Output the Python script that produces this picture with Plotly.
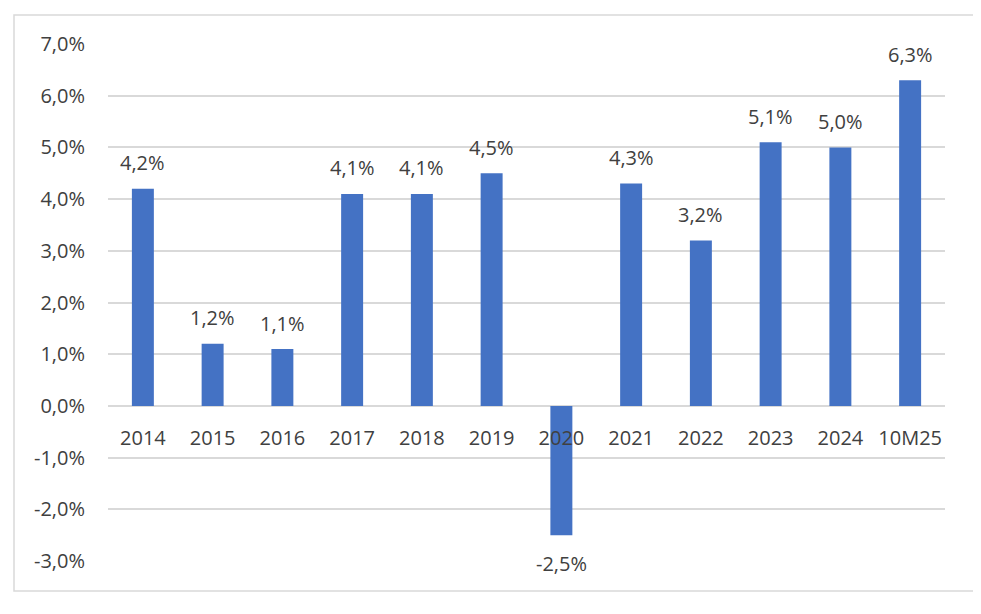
import plotly.graph_objects as go

categories = ["2014", "2015", "2016", "2017", "2018", "2019", "2020", "2021", "2022", "2023", "2024", "10M25"]
values = [4.2, 1.2, 1.1, 4.1, 4.1, 4.5, -2.5, 4.3, 3.2, 5.1, 5.0, 6.3]
y_ticks = [-3, -2, -1, 0, 1, 2, 3, 4, 5, 6, 7]

FONT = "Open Sans"
TXT = "#404040"
GRID = "#d9d9d9"
BAR = "#4472C4"

fig = go.Figure()
fig.add_trace(go.Bar(x=categories, y=values, marker_color=BAR, marker_line_width=0,
                     hoverinfo="skip"))

for i, v in enumerate(values):
    fig.add_annotation(x=i, y=v, xref="x", yref="y",
                       text=f"{v:.1f}".replace(".", ",") + "%",
                       showarrow=False, yanchor="middle",
                       yshift=26 if v >= 0 else -28,
                       font=dict(family=FONT, size=20, color=TXT))

ymin, ymax = -3, 7
W, H = 973, 606
L, R, T, B = 100, 36, 36, 53
PW, PH = W - L - R, H - T - B
fig.update_layout(
    width=W, height=H,
    margin=dict(l=L, r=R, t=T, b=B),
    paper_bgcolor="white", plot_bgcolor="white",
    showlegend=False, bargap=0.685,
    font=dict(family=FONT, size=20, color=TXT),
    xaxis=dict(type="category", categoryorder="array", categoryarray=categories,
               range=[-0.5, len(categories) - 0.5],
               anchor="free", position=(0 - ymin) / (ymax - ymin),
               showgrid=False, showline=False, zeroline=False, ticks="",
               ticklabelstandoff=18,
               tickfont=dict(family=FONT, size=20, color=TXT)),
    yaxis=dict(range=[ymin, ymax], tickvals=y_ticks,
               ticktext=[f"{t:.1f}".replace(".", ",") + "%" for t in y_ticks],
               showgrid=True, gridcolor=GRID, gridwidth=1.5,
               zeroline=True, zerolinecolor=GRID, zerolinewidth=1.5,
               showline=False, ticks="", ticklabelstandoff=22,
               tickfont=dict(family=FONT, size=20, color=TXT)),
)

# outer chart border (Excel chart area frame)
fig.add_shape(type="rect", xref="paper", yref="paper",
              x0=(6 - L) / PW, x1=(966 - L) / PW,
              y0=(T + PH - 583) / PH, y1=(T + PH - 7) / PH,
              line=dict(color=GRID, width=1.5), fillcolor="rgba(0,0,0,0)", layer="below")

fig.write_html("out.html")
